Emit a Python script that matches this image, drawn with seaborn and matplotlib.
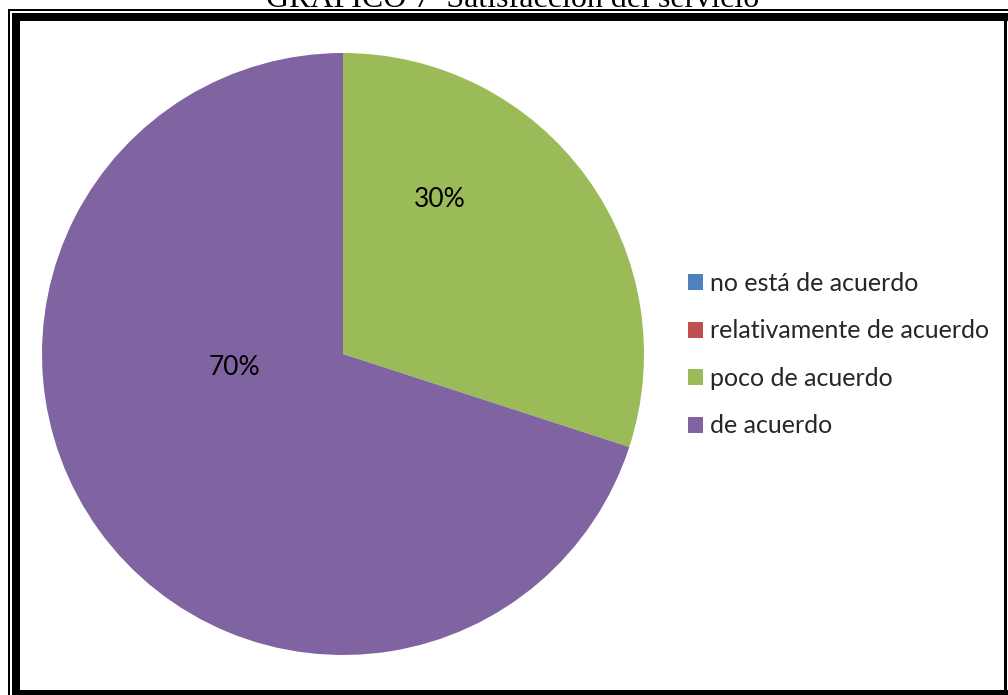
import matplotlib
matplotlib.use("Agg")
import matplotlib.pyplot as plt
from matplotlib.patches import Rectangle
import seaborn as sns

categories = ["no está de acuerdo", "relativamente de acuerdo", "poco de acuerdo", "de acuerdo"]
values = [0, 0, 30, 70]
colors = ["#4F81BD", "#C0504D", "#9BBB59", "#8064A2"]
title = "GRAFICO 7  Satisfacción del servicio"

sns.set_theme(style="white")
palette = sns.color_palette(colors)
plt.rcParams["font.family"] = ["Lato", "DejaVu Sans"]

W, H = 1008, 695
fig = plt.figure(figsize=(W / 100, H / 100), dpi=100)
fig.patch.set_facecolor("white")

# frame layer in pixel coordinates
frame = fig.add_axes([0, 0, 1, 1], zorder=0)
frame.set_xlim(0, W)
frame.set_ylim(H, 0)
frame.axis("off")
frame.add_patch(Rectangle((8, 9), 1.6, H, color="black", lw=0))          # thin left
frame.add_patch(Rectangle((8, 9), W, 1.6, color="black", lw=0))          # thin top
frame.add_patch(Rectangle((12, 13), 7.5, H, color="black", lw=0))        # thick left
frame.add_patch(Rectangle((12, 13), W, 7.5, color="black", lw=0))        # thick top
frame.add_patch(Rectangle((1004, 13), 2.5, H, color="black", lw=0))      # right edge
frame.add_patch(Rectangle((12, 690), W, 6, color="black", lw=0))         # bottom
frame.text(513, 7, title, ha="center", va="baseline", fontsize=23,
           family=["Liberation Serif", "DejaVu Serif"], color="black")

# pie, drawn clockwise from twelve o'clock
cx, cy, r = 343, 354, 301
ax = fig.add_axes([(cx - r) / W, (H - cy - r) / H, 2 * r / W, 2 * r / H], zorder=1)
wedges, _ = ax.pie(values, colors=palette, startangle=90, counterclock=False,
                   radius=1, wedgeprops=dict(linewidth=0))
ax.set_xlim(-1, 1)
ax.set_ylim(-1, 1)
ax.set_aspect("equal")
ax.axis("off")

total = sum(values)
label_pos = {2: (0.322, 0.512), 3: (-0.362, -0.046)}
for i, (x, y) in label_pos.items():
    ax.text(x, y, f"{values[i] / total:.0%}", ha="center", va="center",
            fontsize=19, color="black")

leg = fig.legend(wedges, categories, loc="upper left",
                 bbox_to_anchor=(678 / W, 1 - 262 / H), frameon=False,
                 fontsize=18, handlelength=0.6, handleheight=0.6,
                 handletextpad=0.3, labelspacing=0.98, borderaxespad=0)

fig.savefig("out.png", dpi=100)
